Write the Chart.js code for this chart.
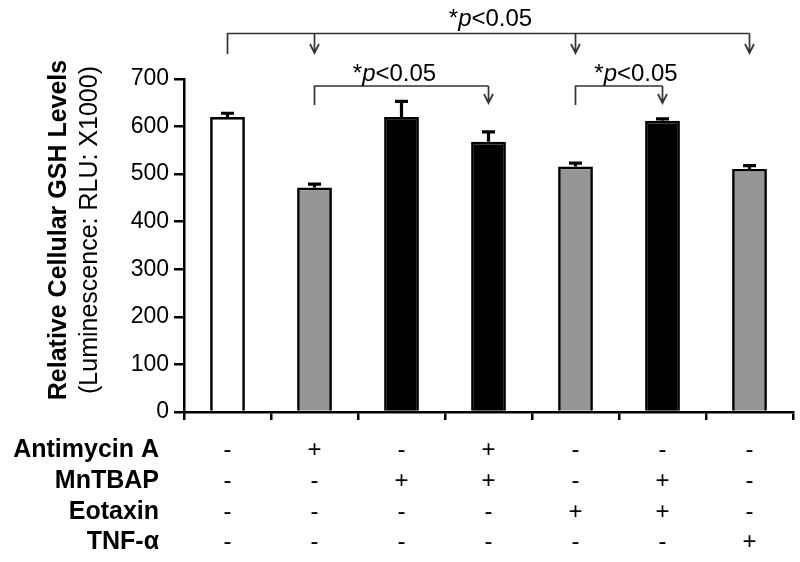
<!DOCTYPE html>
<html>
<head>
<meta charset="utf-8">
<script src="https://cdn.jsdelivr.net/npm/chart.js@4.4.1/dist/chart.umd.min.js"></script>
<style>
    html, body { margin: 0; padding: 0; background: #fff; }
    #wrap { width: 800px; height: 562px; position: relative; }
</style>
</head>
<body>
<div id="wrap"><canvas id="gshChart" width="800" height="562"></canvas></div>
<script>
// GSH levels per treatment group
const groups = ['G1', 'G2', 'G3', 'G4', 'G5', 'G6', 'G7'];
const gshValues = [620, 472, 620, 568, 516, 612, 511];
const gshErrors = [8, 7, 33, 21, 7, 4, 7];
const barColors = ['#ffffff', '#969696', '#000000', '#000000', '#969696', '#000000', '#969696'];
const yTicks = [0, 100, 200, 300, 400, 500, 600, 700];

// treatment table below the axis
const treatmentNames = ['Antimycin A', 'MnTBAP', 'Eotaxin', 'TNF-\u03B1'];
const antimycinA = ['-', '+', '-', '+', '-', '-', '-'];
const mnTBAP = ['-', '-', '+', '+', '-', '+', '-'];
const eotaxin = ['-', '-', '-', '-', '+', '+', '-'];
const tnfAlpha = ['-', '-', '-', '-', '-', '-', '+'];

// significance brackets: reference group -> compared groups
const brackets = [
    { from: 0, to: [1, 4, 6], level: 'top' },
    { from: 1, to: [3], level: 'inner' },
    { from: 4, to: [5], level: 'inner' }
];

const FONT = '"Liberation Sans", Arial, Helvetica, sans-serif';

// Error bars (upper only)
const errorBarPlugin = {
    id: 'errorBars',
    afterDatasetsDraw(chart) {
        const { ctx, scales: { x, y } } = chart;
        ctx.save();
        ctx.strokeStyle = '#000';
        ctx.lineWidth = 3.2;
        gshValues.forEach((v, i) => {
            const cx = x.getPixelForValue(i);
            const y0 = y.getPixelForValue(v);
            const y1 = y.getPixelForValue(v + gshErrors[i]);
            ctx.beginPath();
            ctx.moveTo(cx, y0);
            ctx.lineTo(cx, y1);
            ctx.moveTo(cx - 6.5, y1);
            ctx.lineTo(cx + 6.5, y1);
            ctx.stroke();
        });
        ctx.restore();
    }
};

function drawPText(ctx, cx, baseline) {
    const size = 24;
    const parts = [
        { t: '*', f: `${size}px ${FONT}` },
        { t: 'p', f: `italic ${size}px ${FONT}` },
        { t: '<0.05', f: `${size}px ${FONT}` }
    ];
    let total = 0;
    parts.forEach(p => { ctx.font = p.f; p.w = ctx.measureText(p.t).width; total += p.w; });
    let xx = cx - total / 2;
    ctx.textAlign = 'left';
    ctx.textBaseline = 'alphabetic';
    parts.forEach(p => {
        ctx.font = p.f;
        ctx.fillText(p.t, xx, baseline);
        xx += p.w;
    });
}

// Significance brackets with arrows
const bracketPlugin = {
    id: 'brackets',
    afterDraw(chart) {
        const { ctx, chartArea, scales: { x } } = chart;
        const textShift = [2, -7, 17];
        ctx.save();
        ctx.strokeStyle = '#333';
        ctx.fillStyle = '#000';
        ctx.lineWidth = 1.7;
        brackets.forEach((b, k) => {
            const isTop = b.level === 'top';
            const lineY = isTop ? chartArea.top - 45.5 : chartArea.top + 7;
            const leftEnd = isTop ? chartArea.top - 25 : chartArea.top + 26;
            const tipY = isTop ? chartArea.top - 26 : chartArea.top + 24;
            const x0 = x.getPixelForValue(b.from);
            const xs = b.to.map(i => x.getPixelForValue(i));
            const xMax = Math.max(...xs);
            ctx.beginPath();
            ctx.moveTo(x0, leftEnd);
            ctx.lineTo(x0, lineY);
            ctx.lineTo(xMax, lineY);
            ctx.stroke();
            xs.forEach(ax => {
                ctx.beginPath();
                ctx.moveTo(ax, lineY);
                ctx.lineTo(ax, tipY);
                ctx.moveTo(ax - 4.5, tipY - 9);
                ctx.lineTo(ax, tipY);
                ctx.lineTo(ax + 4.5, tipY - 9);
                ctx.stroke();
            });
            const textX = (x0 + xMax) / 2 + textShift[k];
            drawPText(ctx, textX, isTop ? lineY - 7.5 : lineY - 5);
        });
        ctx.restore();
    }
};

// Y axis title (two lines) and treatment table
const labelsPlugin = {
    id: 'extraLabels',
    afterDraw(chart) {
        const { ctx, scales: { x } } = chart;
        ctx.save();
        ctx.fillStyle = '#000';
        // axis title
        ctx.translate(0, 230);
        ctx.rotate(-Math.PI / 2);
        ctx.textAlign = 'center';
        ctx.textBaseline = 'middle';
        ctx.font = `bold 25px ${FONT}`;
        ctx.fillText('Relative Cellular GSH Levels', 0, 59);
        ctx.font = `25px ${FONT}`;
        ctx.fillText('(Luminescence: RLU: X1000)', 0, 90);
        ctx.setTransform(1, 0, 0, 1, 0, 0);

        const rows = [antimycinA, mnTBAP, eotaxin, tnfAlpha];
        const rowY = [450, 481, 512, 542];
        rows.forEach((row, r) => {
            ctx.font = `bold 25px ${FONT}`;
            ctx.textAlign = 'right';
            ctx.textBaseline = 'middle';
            ctx.fillText(treatmentNames[r], 159, rowY[r]);
            ctx.font = `24px ${FONT}`;
            ctx.textAlign = 'center';
            row.forEach((s, i) => {
                ctx.fillText(s, x.getPixelForValue(i), rowY[r]);
            });
        });
        ctx.restore();
    }
};

const ctx = document.getElementById('gshChart').getContext('2d');
new Chart(ctx, {
    type: 'bar',
    data: {
        labels: groups,
        datasets: [{
            data: gshValues,
            backgroundColor: barColors,
            borderColor: '#000',
            borderWidth: 2.7,
            borderSkipped: 'start',
            barPercentage: 0.4,
            categoryPercentage: 1.0
        }]
    },
    options: {
        responsive: false,
        animation: false,
        devicePixelRatio: 1,
        layout: { padding: { top: 79, right: 7, left: 0, bottom: 0 } },
        plugins: {
            legend: { display: false },
            tooltip: { enabled: false }
        },
        scales: {
            x: {
                offset: true,
                grid: {
                    offset: true,
                    drawOnChartArea: false,
                    color: '#000',
                    lineWidth: 2.5,
                    tickLength: 8
                },
                border: { color: '#000', width: 2.5 },
                ticks: { display: false },
                afterFit(scale) { scale.height = 150; }
            },
            y: {
                min: 0,
                max: 700,
                afterBuildTicks(scale) {
                    scale.ticks = yTicks.map(v => ({ value: v }));
                },
                grid: {
                    drawOnChartArea: false,
                    color: '#000',
                    lineWidth: 2.5,
                    tickLength: 10
                },
                border: { color: '#000', width: 2.5 },
                ticks: {
                    color: '#000',
                    padding: 5,
                    font: { family: FONT, size: 23 }
                },
                afterFit(scale) { scale.width = 184; }
            }
        }
    },
    plugins: [errorBarPlugin, bracketPlugin, labelsPlugin]
});
</script>
</body>
</html>
